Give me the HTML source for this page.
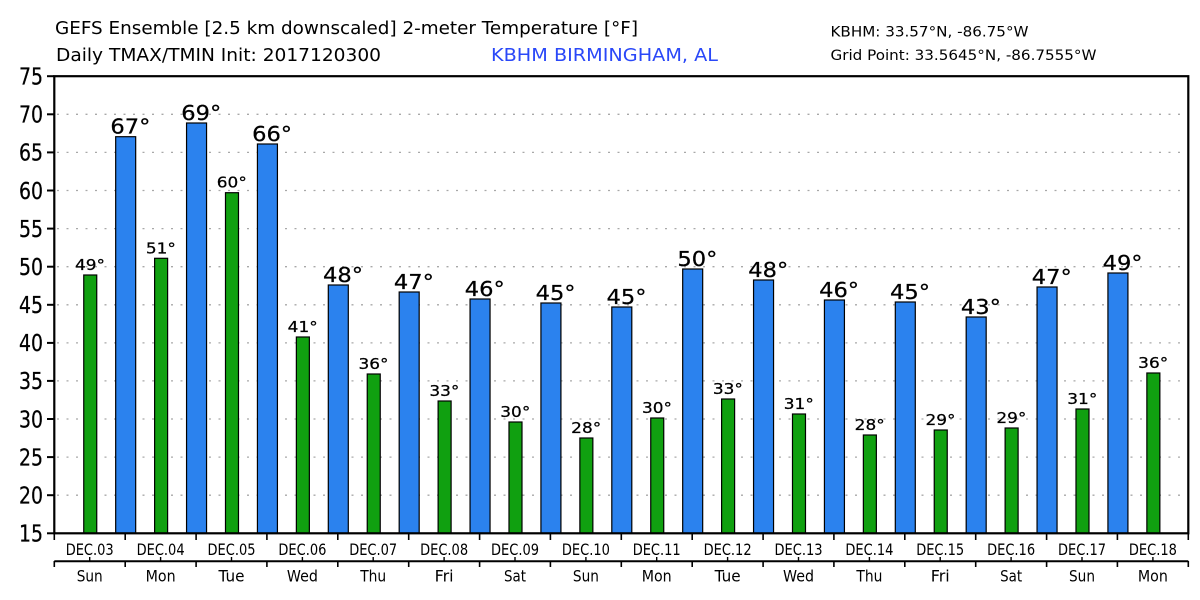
<!DOCTYPE html>
<html>
<head>
<meta charset="utf-8">
<style>
html,body{margin:0;padding:0;background:#fff;}
svg{display:block;}
text{font-family:"DejaVu Sans","Liberation Sans",sans-serif;fill:#000;}
.b text{stroke:#000;stroke-width:0.25;}
</style>
</head>
<body>
<svg width="1200" height="600" viewBox="0 0 1200 600" xmlns="http://www.w3.org/2000/svg">
<rect x="0" y="0" width="1200" height="600" fill="#fff"/>

<!-- Titles -->
<text x="55" y="34" font-size="18" textLength="583" lengthAdjust="spacingAndGlyphs">GEFS Ensemble [2.5 km downscaled] 2-meter Temperature [°F]</text>
<text x="56" y="61" font-size="18" textLength="325" lengthAdjust="spacingAndGlyphs">Daily TMAX/TMIN Init: 2017120300</text>
<text x="491" y="61" font-size="18" textLength="227" lengthAdjust="spacingAndGlyphs" style="fill:#2a48f8">KBHM BIRMINGHAM, AL</text>
<text x="830.5" y="36.5" font-size="14" textLength="198" lengthAdjust="spacingAndGlyphs">KBHM: 33.57°N, -86.75°W</text>
<text x="830.5" y="60" font-size="14" textLength="266" lengthAdjust="spacingAndGlyphs">Grid Point: 33.5645°N, -86.7555°W</text>

<!-- Gridlines -->
<g stroke="#a8a8a8" stroke-width="1.3" stroke-dasharray="2 7.5">
<line x1="57" x2="1187" y1="495.2" y2="495.2"/>
<line x1="57" x2="1187" y1="457.1" y2="457.1"/>
<line x1="57" x2="1187" y1="419.0" y2="419.0"/>
<line x1="57" x2="1187" y1="380.9" y2="380.9"/>
<line x1="57" x2="1187" y1="342.9" y2="342.9"/>
<line x1="57" x2="1187" y1="304.8" y2="304.8"/>
<line x1="57" x2="1187" y1="266.7" y2="266.7"/>
<line x1="57" x2="1187" y1="228.6" y2="228.6"/>
<line x1="57" x2="1187" y1="190.5" y2="190.5"/>
<line x1="57" x2="1187" y1="152.4" y2="152.4"/>
<line x1="57" x2="1187" y1="114.3" y2="114.3"/>
</g>

<!-- Blue TMAX bars -->
<g fill="#2b82ee" stroke="#000" stroke-width="1.2">
<rect x="115.68" y="136.7" width="20" height="396.6"/>
<rect x="186.55" y="123" width="20" height="410.3"/>
<rect x="257.43" y="144" width="20" height="389.3"/>
<rect x="328.3" y="285" width="20" height="248.3"/>
<rect x="399.18" y="292" width="20" height="241.3"/>
<rect x="470.05" y="299" width="20" height="234.3"/>
<rect x="540.93" y="303" width="20" height="230.3"/>
<rect x="611.8" y="307" width="20" height="226.3"/>
<rect x="682.68" y="269" width="20" height="264.3"/>
<rect x="753.55" y="280" width="20" height="253.3"/>
<rect x="824.43" y="300" width="20" height="233.3"/>
<rect x="895.3" y="302" width="20" height="231.3"/>
<rect x="966.18" y="317" width="20" height="216.3"/>
<rect x="1037.05" y="287" width="20" height="246.3"/>
<rect x="1107.93" y="273" width="20" height="260.3"/>
</g>

<!-- Green TMIN bars -->
<g fill="#10a010" stroke="#000" stroke-width="1.2">
<rect x="83.74" y="275" width="13" height="258.3"/>
<rect x="154.61" y="258.3" width="13" height="275"/>
<rect x="225.49" y="192.7" width="13" height="340.6"/>
<rect x="296.36" y="337" width="13" height="196.3"/>
<rect x="367.24" y="374" width="13" height="159.3"/>
<rect x="438.11" y="401" width="13" height="132.3"/>
<rect x="508.99" y="422" width="13" height="111.3"/>
<rect x="579.86" y="438" width="13" height="95.3"/>
<rect x="650.74" y="418" width="13" height="115.3"/>
<rect x="721.61" y="399" width="13" height="134.3"/>
<rect x="792.49" y="414" width="13" height="119.3"/>
<rect x="863.36" y="435" width="13" height="98.3"/>
<rect x="934.24" y="430" width="13" height="103.3"/>
<rect x="1005.11" y="428" width="13" height="105.3"/>
<rect x="1075.99" y="409" width="13" height="124.3"/>
<rect x="1146.86" y="373" width="13" height="160.3"/>
</g>

<!-- Big TMAX labels -->
<g class="b" font-size="20.5" text-anchor="middle">
<text x="130.4" y="133.7" textLength="40" lengthAdjust="spacingAndGlyphs">67°</text>
<text x="201.25" y="120" textLength="40" lengthAdjust="spacingAndGlyphs">69°</text>
<text x="272.1" y="141" textLength="40" lengthAdjust="spacingAndGlyphs">66°</text>
<text x="343" y="282" textLength="40" lengthAdjust="spacingAndGlyphs">48°</text>
<text x="413.9" y="289" textLength="40" lengthAdjust="spacingAndGlyphs">47°</text>
<text x="484.75" y="296" textLength="40" lengthAdjust="spacingAndGlyphs">46°</text>
<text x="555.6" y="300" textLength="40" lengthAdjust="spacingAndGlyphs">45°</text>
<text x="626.5" y="304" textLength="40" lengthAdjust="spacingAndGlyphs">45°</text>
<text x="697.4" y="266" textLength="40" lengthAdjust="spacingAndGlyphs">50°</text>
<text x="768.25" y="277" textLength="40" lengthAdjust="spacingAndGlyphs">48°</text>
<text x="839.1" y="297" textLength="40" lengthAdjust="spacingAndGlyphs">46°</text>
<text x="910" y="299" textLength="40" lengthAdjust="spacingAndGlyphs">45°</text>
<text x="980.9" y="314" textLength="40" lengthAdjust="spacingAndGlyphs">43°</text>
<text x="1051.75" y="284" textLength="40" lengthAdjust="spacingAndGlyphs">47°</text>
<text x="1122.6" y="270" textLength="40" lengthAdjust="spacingAndGlyphs">49°</text>
</g>

<!-- Small TMIN labels -->
<g class="b" font-size="15" text-anchor="middle">
<text x="90" y="270" textLength="30" lengthAdjust="spacingAndGlyphs">49°</text>
<text x="160.9" y="253.3" textLength="30" lengthAdjust="spacingAndGlyphs">51°</text>
<text x="231.8" y="187.7" textLength="30" lengthAdjust="spacingAndGlyphs">60°</text>
<text x="302.7" y="332" textLength="30" lengthAdjust="spacingAndGlyphs">41°</text>
<text x="373.5" y="369" textLength="30" lengthAdjust="spacingAndGlyphs">36°</text>
<text x="444.4" y="396" textLength="30" lengthAdjust="spacingAndGlyphs">33°</text>
<text x="515.3" y="417" textLength="30" lengthAdjust="spacingAndGlyphs">30°</text>
<text x="586.2" y="433" textLength="30" lengthAdjust="spacingAndGlyphs">28°</text>
<text x="657" y="413" textLength="30" lengthAdjust="spacingAndGlyphs">30°</text>
<text x="727.9" y="394" textLength="30" lengthAdjust="spacingAndGlyphs">33°</text>
<text x="798.8" y="409" textLength="30" lengthAdjust="spacingAndGlyphs">31°</text>
<text x="869.7" y="430" textLength="30" lengthAdjust="spacingAndGlyphs">28°</text>
<text x="940.5" y="425" textLength="30" lengthAdjust="spacingAndGlyphs">29°</text>
<text x="1011.4" y="423" textLength="30" lengthAdjust="spacingAndGlyphs">29°</text>
<text x="1082.3" y="404" textLength="30" lengthAdjust="spacingAndGlyphs">31°</text>
<text x="1153.2" y="368" textLength="30" lengthAdjust="spacingAndGlyphs">36°</text>
</g>

<!-- Frame -->
<rect x="54.3" y="76.2" width="1134" height="457.1" fill="none" stroke="#000" stroke-width="2.2"/>

<!-- Y ticks -->
<g stroke="#000" stroke-width="2">
<line x1="47" x2="54" y1="533.3" y2="533.3"/>
<line x1="47" x2="54" y1="495.2" y2="495.2"/>
<line x1="47" x2="54" y1="457.1" y2="457.1"/>
<line x1="47" x2="54" y1="419.0" y2="419.0"/>
<line x1="47" x2="54" y1="380.9" y2="380.9"/>
<line x1="47" x2="54" y1="342.9" y2="342.9"/>
<line x1="47" x2="54" y1="304.8" y2="304.8"/>
<line x1="47" x2="54" y1="266.7" y2="266.7"/>
<line x1="47" x2="54" y1="228.6" y2="228.6"/>
<line x1="47" x2="54" y1="190.5" y2="190.5"/>
<line x1="47" x2="54" y1="152.4" y2="152.4"/>
<line x1="47" x2="54" y1="114.3" y2="114.3"/>
<line x1="47" x2="54" y1="76.2" y2="76.2"/>
</g>

<!-- Y labels -->
<g class="b" font-size="23" text-anchor="end">
<text x="43" y="541.6" textLength="24" lengthAdjust="spacingAndGlyphs">15</text>
<text x="43" y="503.5" textLength="24" lengthAdjust="spacingAndGlyphs">20</text>
<text x="43" y="465.4" textLength="24" lengthAdjust="spacingAndGlyphs">25</text>
<text x="43" y="427.3" textLength="24" lengthAdjust="spacingAndGlyphs">30</text>
<text x="43" y="389.2" textLength="24" lengthAdjust="spacingAndGlyphs">35</text>
<text x="43" y="351.2" textLength="24" lengthAdjust="spacingAndGlyphs">40</text>
<text x="43" y="313.1" textLength="24" lengthAdjust="spacingAndGlyphs">45</text>
<text x="43" y="275.0" textLength="24" lengthAdjust="spacingAndGlyphs">50</text>
<text x="43" y="236.9" textLength="24" lengthAdjust="spacingAndGlyphs">55</text>
<text x="43" y="198.8" textLength="24" lengthAdjust="spacingAndGlyphs">60</text>
<text x="43" y="160.7" textLength="24" lengthAdjust="spacingAndGlyphs">65</text>
<text x="43" y="122.6" textLength="24" lengthAdjust="spacingAndGlyphs">70</text>
<text x="43" y="84.5" textLength="24" lengthAdjust="spacingAndGlyphs">75</text>
</g>

<!-- Bottom axis row 1 ticks -->
<g stroke="#000" stroke-width="1.6">
<line x1="54.3" x2="54.3" y1="533" y2="540"/>
<line x1="125.2" x2="125.2" y1="533" y2="540"/>
<line x1="196.1" x2="196.1" y1="533" y2="540"/>
<line x1="266.9" x2="266.9" y1="533" y2="540"/>
<line x1="337.8" x2="337.8" y1="533" y2="540"/>
<line x1="408.7" x2="408.7" y1="533" y2="540"/>
<line x1="479.6" x2="479.6" y1="533" y2="540"/>
<line x1="550.4" x2="550.4" y1="533" y2="540"/>
<line x1="621.3" x2="621.3" y1="533" y2="540"/>
<line x1="692.2" x2="692.2" y1="533" y2="540"/>
<line x1="763.1" x2="763.1" y1="533" y2="540"/>
<line x1="833.9" x2="833.9" y1="533" y2="540"/>
<line x1="904.8" x2="904.8" y1="533" y2="540"/>
<line x1="975.7" x2="975.7" y1="533" y2="540"/>
<line x1="1046.6" x2="1046.6" y1="533" y2="540"/>
<line x1="1117.4" x2="1117.4" y1="533" y2="540"/>
<line x1="1188.3" x2="1188.3" y1="533" y2="540"/>
</g>

<!-- Date labels -->
<g font-size="16" text-anchor="middle">
<text x="89.7" y="555" textLength="48" lengthAdjust="spacingAndGlyphs">DEC.03</text>
<text x="160.6" y="555" textLength="48" lengthAdjust="spacingAndGlyphs">DEC.04</text>
<text x="231.5" y="555" textLength="48" lengthAdjust="spacingAndGlyphs">DEC.05</text>
<text x="302.4" y="555" textLength="48" lengthAdjust="spacingAndGlyphs">DEC.06</text>
<text x="373.2" y="555" textLength="48" lengthAdjust="spacingAndGlyphs">DEC.07</text>
<text x="444.1" y="555" textLength="48" lengthAdjust="spacingAndGlyphs">DEC.08</text>
<text x="515" y="555" textLength="48" lengthAdjust="spacingAndGlyphs">DEC.09</text>
<text x="585.9" y="555" textLength="48" lengthAdjust="spacingAndGlyphs">DEC.10</text>
<text x="656.7" y="555" textLength="48" lengthAdjust="spacingAndGlyphs">DEC.11</text>
<text x="727.6" y="555" textLength="48" lengthAdjust="spacingAndGlyphs">DEC.12</text>
<text x="798.5" y="555" textLength="48" lengthAdjust="spacingAndGlyphs">DEC.13</text>
<text x="869.4" y="555" textLength="48" lengthAdjust="spacingAndGlyphs">DEC.14</text>
<text x="940.2" y="555" textLength="48" lengthAdjust="spacingAndGlyphs">DEC.15</text>
<text x="1011.1" y="555" textLength="48" lengthAdjust="spacingAndGlyphs">DEC.16</text>
<text x="1082" y="555" textLength="48" lengthAdjust="spacingAndGlyphs">DEC.17</text>
<text x="1152.9" y="555" textLength="48" lengthAdjust="spacingAndGlyphs">DEC.18</text>
</g>

<!-- Bottom axis row 2 -->
<line x1="54.3" x2="1188.3" y1="561.3" y2="561.3" stroke="#000" stroke-width="2"/>
<g stroke="#000" stroke-width="1.6">
<line x1="54.3" x2="54.3" y1="561" y2="567"/>
<line x1="125.2" x2="125.2" y1="561" y2="567"/>
<line x1="196.1" x2="196.1" y1="561" y2="567"/>
<line x1="266.9" x2="266.9" y1="561" y2="567"/>
<line x1="337.8" x2="337.8" y1="561" y2="567"/>
<line x1="408.7" x2="408.7" y1="561" y2="567"/>
<line x1="479.6" x2="479.6" y1="561" y2="567"/>
<line x1="550.4" x2="550.4" y1="561" y2="567"/>
<line x1="621.3" x2="621.3" y1="561" y2="567"/>
<line x1="692.2" x2="692.2" y1="561" y2="567"/>
<line x1="763.1" x2="763.1" y1="561" y2="567"/>
<line x1="833.9" x2="833.9" y1="561" y2="567"/>
<line x1="904.8" x2="904.8" y1="561" y2="567"/>
<line x1="975.7" x2="975.7" y1="561" y2="567"/>
<line x1="1046.6" x2="1046.6" y1="561" y2="567"/>
<line x1="1117.4" x2="1117.4" y1="561" y2="567"/>
<line x1="1188.3" x2="1188.3" y1="561" y2="567"/>
</g>
<g stroke="#000" stroke-width="1.4">
<line x1="89.7" x2="89.7" y1="557" y2="561"/>
<line x1="160.6" x2="160.6" y1="557" y2="561"/>
<line x1="231.5" x2="231.5" y1="557" y2="561"/>
<line x1="302.4" x2="302.4" y1="557" y2="561"/>
<line x1="373.2" x2="373.2" y1="557" y2="561"/>
<line x1="444.1" x2="444.1" y1="557" y2="561"/>
<line x1="515" x2="515" y1="557" y2="561"/>
<line x1="585.9" x2="585.9" y1="557" y2="561"/>
<line x1="656.7" x2="656.7" y1="557" y2="561"/>
<line x1="727.6" x2="727.6" y1="557" y2="561"/>
<line x1="798.5" x2="798.5" y1="557" y2="561"/>
<line x1="869.4" x2="869.4" y1="557" y2="561"/>
<line x1="940.2" x2="940.2" y1="557" y2="561"/>
<line x1="1011.1" x2="1011.1" y1="557" y2="561"/>
<line x1="1082" x2="1082" y1="557" y2="561"/>
<line x1="1152.9" x2="1152.9" y1="557" y2="561"/>
</g>

<!-- Day labels -->
<g font-size="16" text-anchor="middle">
<text x="89.7" y="581.7" textLength="26" lengthAdjust="spacingAndGlyphs">Sun</text>
<text x="160.6" y="581.7" textLength="30" lengthAdjust="spacingAndGlyphs">Mon</text>
<text x="231.5" y="581.7" textLength="26" lengthAdjust="spacingAndGlyphs">Tue</text>
<text x="302.4" y="581.7" textLength="31" lengthAdjust="spacingAndGlyphs">Wed</text>
<text x="373.2" y="581.7" textLength="26" lengthAdjust="spacingAndGlyphs">Thu</text>
<text x="444.1" y="581.7" textLength="19" lengthAdjust="spacingAndGlyphs">Fri</text>
<text x="515" y="581.7" textLength="22" lengthAdjust="spacingAndGlyphs">Sat</text>
<text x="585.9" y="581.7" textLength="26" lengthAdjust="spacingAndGlyphs">Sun</text>
<text x="656.7" y="581.7" textLength="30" lengthAdjust="spacingAndGlyphs">Mon</text>
<text x="727.6" y="581.7" textLength="26" lengthAdjust="spacingAndGlyphs">Tue</text>
<text x="798.5" y="581.7" textLength="31" lengthAdjust="spacingAndGlyphs">Wed</text>
<text x="869.4" y="581.7" textLength="26" lengthAdjust="spacingAndGlyphs">Thu</text>
<text x="940.2" y="581.7" textLength="19" lengthAdjust="spacingAndGlyphs">Fri</text>
<text x="1011.1" y="581.7" textLength="22" lengthAdjust="spacingAndGlyphs">Sat</text>
<text x="1082" y="581.7" textLength="26" lengthAdjust="spacingAndGlyphs">Sun</text>
<text x="1152.9" y="581.7" textLength="30" lengthAdjust="spacingAndGlyphs">Mon</text>
</g>
</svg>
</body>
</html>
